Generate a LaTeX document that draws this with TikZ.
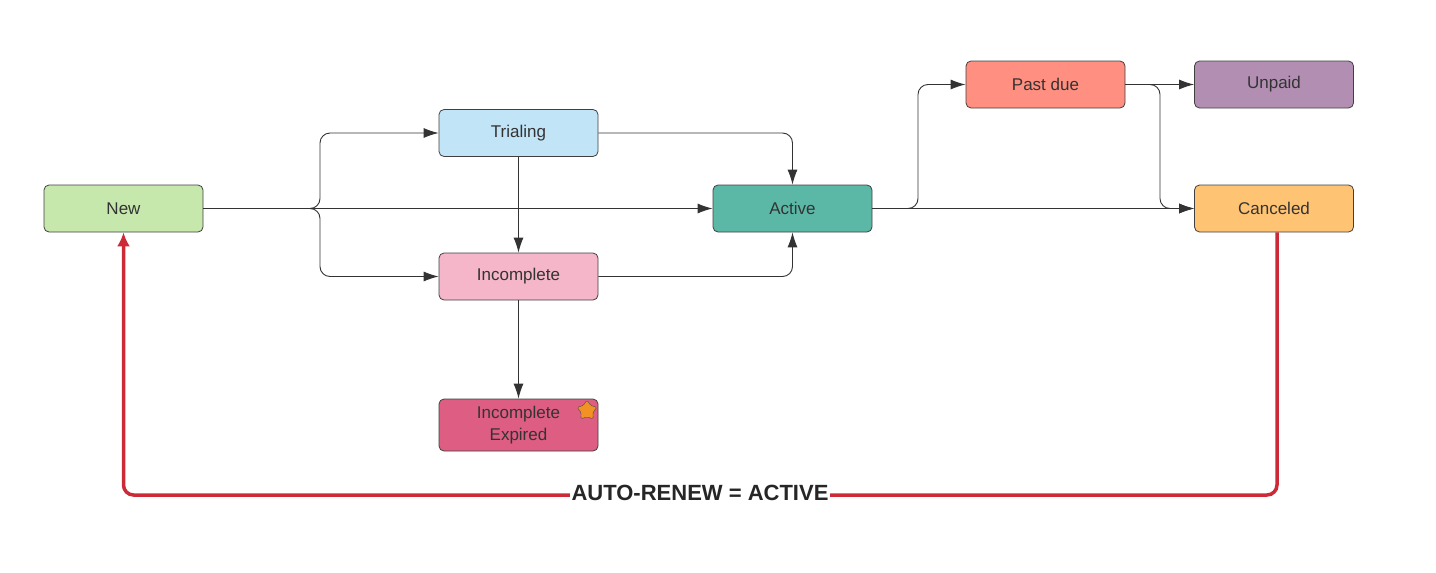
\documentclass[tikz,border=0pt]{standalone}
\usepackage{fontspec}
\setmainfont{Liberation Sans}
\definecolor{NEWcolor}{HTML}{c7e8ac}
\definecolor{TRIcolor}{HTML}{c1e4f7}
\definecolor{INCcolor}{HTML}{f4b6c8}
\definecolor{EXPcolor}{HTML}{de5d83}
\definecolor{ACTcolor}{HTML}{5cb8a6}
\definecolor{PASTcolor}{HTML}{ff8f80}
\definecolor{UNPcolor}{HTML}{b28fb2}
\definecolor{CANcolor}{HTML}{ffc374}
\definecolor{RENcolor}{HTML}{cc2a37}
\definecolor{STARcolor}{HTML}{f29224}
\usetikzlibrary{arrows.meta, shapes.geometric}

\begin{document}
\begin{tikzpicture}[x=1pt, y=-1pt]
    \tikzset{%
        state/.style={draw=black!75, rounded corners=5pt, minimum width=159pt, minimum height=47pt,
                align=center, font=\fontsize{17pt}{22pt}\selectfont, text=black!80, line width=0.8pt},
        flow/.style={draw=black!80, line width=0.9pt, rounded corners=10pt,
                -{Latex[length=15pt, width=10pt]}},
        renew/.style={draw=RENcolor, line width=3.5pt, rounded corners=10pt,
                -{Latex[length=14pt, width=13pt]}}
    }
    \useasboundingbox (0, 0) rectangle (1436, 573);

    % states
    \node [state, fill=NEWcolor] (new) at (123.5, 208.5) {New};
    \node [state, fill=TRIcolor] (trialing) at (518.5, 133) {Trialing};
    \node [state, fill=INCcolor] (incomplete) at (518.5, 276.5) {Incomplete};
    \node [state, fill=EXPcolor, minimum height=52pt] (expired) at (518.5, 425) {Incomplete\\Expired};
    \node [state, fill=ACTcolor] (active) at (792.5, 208.5) {Active};
    \node [state, fill=PASTcolor] (pastdue) at (1045.5, 84.5) {Past due};
    \node [state, fill=UNPcolor] (unpaid) at (1274, 84.5) {Unpaid};
    \node [state, fill=CANcolor] (canceled) at (1274, 208.5) {Canceled};
    \node [star, star points=5, star point ratio=1.7, fill=STARcolor, draw=black!70, rounded corners=1.5pt,
        minimum size=21pt, inner sep=0pt] (starmark) at (587, 410.5) {};

    % transitions
    \draw [flow] (new) -- (active);
    \draw [flow] (new.east) -| (320, 133) -- (trialing.west);
    \draw [flow] (new.east) -| (320, 276.5) -- (incomplete.west);
    \draw [flow] (trialing.east) -| (active.north);
    \draw [flow] (trialing) -- (incomplete);
    \draw [flow] (incomplete.east) -| (active.south);
    \draw [flow] (incomplete) -- (expired);
    \draw [flow] (active) -- (canceled);
    \draw [flow] (active.east) -| (918, 84.5) -- (pastdue.west);
    \draw [flow] (pastdue) -- (unpaid);
    \draw [flow] (pastdue.east) -| (1160, 208.5) -- (canceled.west);

    % auto renew loop
    \draw [renew] (canceled.south -| 1277, 0) |- (123.5, 495) -- (new.south);
    \node [fill=white, inner sep=2pt, font=\bfseries\fontsize{22pt}{26pt}\selectfont, text=black!85]
        (autorenew) at (700, 493) {AUTO-RENEW = ACTIVE};
\end{tikzpicture}
\end{document}
